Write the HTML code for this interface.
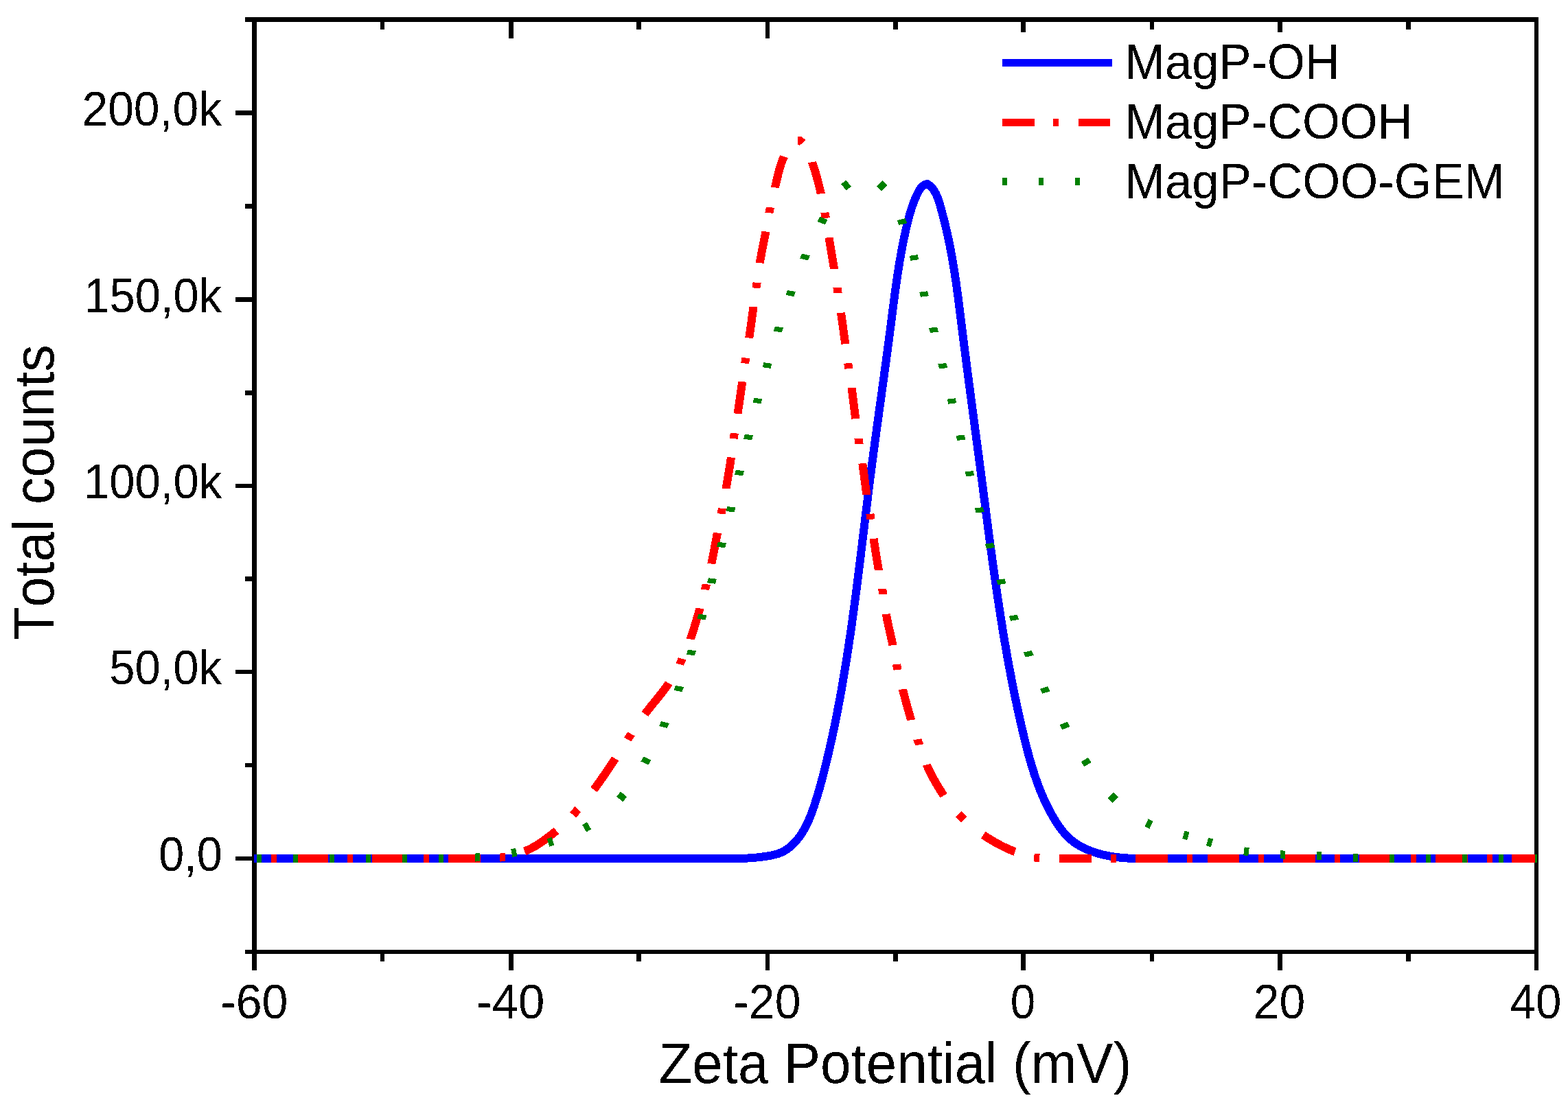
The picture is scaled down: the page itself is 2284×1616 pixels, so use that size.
<!DOCTYPE html>
<html lang="en"><head><meta charset="utf-8"><title>Zeta potential distribution</title>
<style>
html,body{margin:0;padding:0;background:#fff;}
body{width:2284px;height:1616px;overflow:hidden;}
svg{display:block;}
text{white-space:pre;font-kerning:none;font-variant-ligatures:none;}
</style></head>
<body>
<svg width="2284" height="1616" viewBox="0 0 2284 1616">
<defs><filter id="bw" x="-5%" y="-20%" width="110%" height="140%" color-interpolation-filters="sRGB"><feComponentTransfer><feFuncA type="discrete" tableValues="0 1"/></feComponentTransfer></filter></defs>
<rect width="2284" height="1616" fill="#fff"/>
<g shape-rendering="crispEdges" fill="#000">
<rect x="367" y="25" width="7" height="1389" fill="#000"/>
<rect x="357" y="25" width="1884" height="7" fill="#000"/>
<rect x="2235" y="25" width="6" height="1389" fill="#000"/>
<rect x="357" y="1384" width="1884" height="6" fill="#000"/>
<rect x="554" y="1390" width="6" height="11" fill="#000"/>
<rect x="554" y="32" width="6" height="11" fill="#000"/>
<rect x="741" y="1390" width="7" height="24" fill="#000"/>
<rect x="741" y="32" width="7" height="24" fill="#000"/>
<rect x="927" y="1390" width="7" height="11" fill="#000"/>
<rect x="927" y="32" width="7" height="11" fill="#000"/>
<rect x="1115" y="1390" width="6" height="24" fill="#000"/>
<rect x="1115" y="32" width="6" height="24" fill="#000"/>
<rect x="1301" y="1390" width="7" height="11" fill="#000"/>
<rect x="1301" y="32" width="7" height="11" fill="#000"/>
<rect x="1487" y="1390" width="7" height="24" fill="#000"/>
<rect x="1487" y="32" width="7" height="24" fill="#000"/>
<rect x="1675" y="1390" width="6" height="11" fill="#000"/>
<rect x="1675" y="32" width="6" height="11" fill="#000"/>
<rect x="1861" y="1390" width="7" height="24" fill="#000"/>
<rect x="1861" y="32" width="7" height="24" fill="#000"/>
<rect x="2048" y="1390" width="7" height="11" fill="#000"/>
<rect x="2048" y="32" width="7" height="11" fill="#000"/>
<rect x="343" y="1248" width="24" height="6" fill="#000"/>
<rect x="357" y="1112" width="10" height="6" fill="#000"/>
<rect x="343" y="976" width="24" height="6" fill="#000"/>
<rect x="357" y="840" width="10" height="7" fill="#000"/>
<rect x="343" y="705" width="24" height="6" fill="#000"/>
<rect x="357" y="569" width="10" height="7" fill="#000"/>
<rect x="343" y="433" width="24" height="7" fill="#000"/>
<rect x="357" y="297" width="10" height="7" fill="#000"/>
<rect x="343" y="161" width="24" height="7" fill="#000"/>
</g>
<g font-family="'Liberation Sans', Arial, sans-serif" fill="#000" filter="url(#bw)">
<text transform="translate(231.2 1269.3) scale(0.9533 1)" font-size="69.8">0,0</text>
<text transform="translate(159.22 997.3) scale(0.9601 1)" font-size="69.8">50,0k</text>
<text transform="translate(122.11 726.3) scale(0.9594 1)" font-size="69.8">100,0k</text>
<text transform="translate(122.42 454.8) scale(0.9574 1)" font-size="69.8">150,0k</text>
<text transform="translate(119.41 182.8) scale(0.9718 1)" font-size="69.8">200,0k</text>
<text transform="translate(321 1484) scale(0.9761 1)" font-size="69.8">-60</text>
<text transform="translate(693.71 1484) scale(0.9888 1)" font-size="69.8">-40</text>
<text transform="translate(1068.26 1484) scale(0.9730 1)" font-size="69.8">-20</text>
<text transform="translate(1471.7 1484) scale(0.9366 1)" font-size="69.8">0</text>
<text transform="translate(1825.85 1484) scale(0.9733 1)" font-size="69.8">20</text>
<text transform="translate(2199.55 1484) scale(0.9633 1)" font-size="69.8">40</text>
<text transform="translate(959.44 1578) scale(0.9659 1)" font-size="82.8">Zeta Potential (mV)</text>
<text transform="translate(78 932.74) rotate(-90) scale(0.9455 1)" font-size="83.6">Total counts</text>
</g>
<clipPath id="pc"><rect x="370" y="32" width="1869" height="1352"/></clipPath>
<g clip-path="url(#pc)" fill="none" stroke-linecap="butt" stroke-linejoin="round" shape-rendering="crispEdges">
<path d="M320.5 1251 L1040 1251 L1042.81 1251 L1045.61 1251 L1048.41 1251 L1051.21 1251 L1053.99 1251 L1056.78 1251 L1059.56 1251 L1062.34 1251 L1065.11 1251 L1067.89 1251 L1070.66 1251 L1073.43 1251 L1076.2 1251 L1078.97 1250.95 L1081.74 1250.86 L1084.51 1250.74 L1087.28 1250.61 L1090.06 1250.45 L1092.83 1250.28 L1095.61 1250.08 L1098.39 1249.85 L1101.18 1249.6 L1103.96 1249.32 L1106.75 1249.02 L1109.54 1248.68 L1112.33 1248.3 L1115.11 1247.9 L1117.89 1247.45 L1120.66 1246.97 L1123.42 1246.44 L1126.17 1245.86 L1128.9 1245.22 L1131.58 1244.49 L1134.22 1243.65 L1136.81 1242.68 L1139.32 1241.56 L1141.76 1240.31 L1144.13 1238.92 L1146.44 1237.42 L1148.67 1235.8 L1150.83 1234.08 L1152.93 1232.27 L1154.95 1230.37 L1156.91 1228.39 L1158.79 1226.35 L1160.61 1224.25 L1162.36 1222.09 L1164.04 1219.89 L1165.66 1217.65 L1167.22 1215.36 L1168.72 1213.03 L1170.16 1210.66 L1171.55 1208.25 L1172.88 1205.81 L1174.17 1203.34 L1175.41 1200.84 L1176.61 1198.31 L1177.76 1195.76 L1178.88 1193.19 L1179.95 1190.59 L1181 1187.98 L1182.01 1185.35 L1182.99 1182.71 L1183.95 1180.06 L1184.88 1177.4 L1185.79 1174.73 L1186.67 1172.06 L1187.54 1169.39 L1188.4 1166.72 L1189.24 1164.05 L1190.07 1161.38 L1190.88 1158.71 L1191.68 1156.03 L1192.46 1153.36 L1193.24 1150.69 L1194 1148.01 L1194.75 1145.34 L1195.49 1142.66 L1196.23 1139.98 L1196.95 1137.3 L1197.66 1134.62 L1198.37 1131.94 L1199.07 1129.26 L1199.76 1126.57 L1200.44 1123.89 L1201.12 1121.2 L1201.79 1118.51 L1202.46 1115.81 L1203.12 1113.12 L1203.78 1110.42 L1204.43 1107.72 L1205.08 1105.02 L1205.72 1102.32 L1206.36 1099.61 L1206.99 1096.91 L1207.62 1094.2 L1208.24 1091.49 L1208.86 1088.78 L1209.47 1086.06 L1210.08 1083.35 L1210.69 1080.63 L1211.29 1077.91 L1211.88 1075.19 L1212.47 1072.47 L1213.06 1069.75 L1213.64 1067.02 L1214.22 1064.29 L1214.79 1061.57 L1215.36 1058.84 L1215.92 1056.11 L1216.48 1053.38 L1217.04 1050.64 L1217.59 1047.91 L1218.14 1045.17 L1218.68 1042.44 L1219.22 1039.7 L1219.75 1036.96 L1220.28 1034.22 L1220.81 1031.48 L1221.33 1028.74 L1221.85 1026 L1222.37 1023.26 L1222.88 1020.51 L1223.38 1017.77 L1223.89 1015.03 L1224.39 1012.28 L1224.88 1009.53 L1225.38 1006.79 L1225.87 1004.04 L1226.35 1001.29 L1226.83 998.54 L1227.31 995.79 L1227.79 993.04 L1228.26 990.29 L1228.72 987.54 L1229.19 984.79 L1229.65 982.04 L1230.11 979.29 L1230.56 976.54 L1231.01 973.79 L1231.46 971.04 L1231.91 968.28 L1232.35 965.53 L1232.79 962.78 L1233.22 960.03 L1233.66 957.27 L1234.09 954.52 L1234.52 951.76 L1234.94 949.01 L1235.36 946.26 L1235.78 943.5 L1236.2 940.75 L1236.61 937.99 L1237.02 935.24 L1237.43 932.48 L1237.84 929.73 L1238.24 926.97 L1238.64 924.21 L1239.04 921.46 L1239.44 918.7 L1239.83 915.94 L1240.22 913.19 L1240.61 910.43 L1241 907.67 L1241.39 904.91 L1241.77 902.16 L1242.15 899.4 L1242.53 896.64 L1242.91 893.88 L1243.28 891.12 L1243.66 888.37 L1244.03 885.61 L1244.4 882.85 L1244.77 880.09 L1245.14 877.33 L1245.5 874.57 L1245.86 871.81 L1246.23 869.05 L1246.59 866.29 L1246.95 863.53 L1247.3 860.77 L1247.66 858.01 L1248.01 855.25 L1248.37 852.49 L1248.72 849.72 L1249.07 846.96 L1249.42 844.2 L1249.77 841.44 L1250.12 838.68 L1250.46 835.92 L1250.81 833.16 L1251.15 830.39 L1251.5 827.63 L1251.84 824.87 L1252.18 822.11 L1252.52 819.34 L1252.86 816.58 L1253.2 813.82 L1253.54 811.06 L1253.88 808.29 L1254.22 805.53 L1254.56 802.77 L1254.9 800 L1255.23 797.24 L1255.57 794.48 L1255.9 791.71 L1256.24 788.95 L1256.58 786.19 L1256.91 783.42 L1257.25 780.66 L1257.58 777.9 L1257.92 775.13 L1258.25 772.37 L1258.58 769.6 L1258.92 766.84 L1259.25 764.08 L1259.59 761.31 L1259.92 758.55 L1260.26 755.78 L1260.6 753.02 L1260.93 750.25 L1261.27 747.49 L1261.6 744.73 L1261.94 741.96 L1262.28 739.2 L1262.62 736.43 L1262.96 733.67 L1263.3 730.9 L1263.64 728.14 L1263.98 725.37 L1264.32 722.61 L1264.66 719.85 L1265 717.08 L1265.35 714.32 L1265.69 711.55 L1266.04 708.79 L1266.38 706.02 L1266.73 703.26 L1267.08 700.49 L1267.43 697.73 L1267.78 694.96 L1268.13 692.2 L1268.49 689.44 L1268.84 686.67 L1269.2 683.91 L1269.56 681.14 L1269.92 678.38 L1270.28 675.61 L1270.64 672.85 L1271 670.09 L1271.36 667.32 L1271.73 664.56 L1272.1 661.79 L1272.46 659.03 L1272.83 656.26 L1273.2 653.5 L1273.57 650.74 L1273.94 647.97 L1274.31 645.21 L1274.69 642.45 L1275.06 639.68 L1275.44 636.92 L1275.81 634.15 L1276.19 631.39 L1276.56 628.63 L1276.94 625.86 L1277.32 623.1 L1277.7 620.34 L1278.08 617.57 L1278.46 614.81 L1278.84 612.05 L1279.22 609.28 L1279.6 606.52 L1279.98 603.76 L1280.36 601 L1280.74 598.23 L1281.12 595.47 L1281.5 592.71 L1281.88 589.94 L1282.27 587.18 L1282.65 584.42 L1283.03 581.66 L1283.41 578.9 L1283.8 576.13 L1284.18 573.37 L1284.56 570.61 L1284.94 567.85 L1285.32 565.08 L1285.7 562.32 L1286.08 559.56 L1286.46 556.8 L1286.84 554.04 L1287.22 551.28 L1287.6 548.52 L1287.98 545.75 L1288.36 542.99 L1288.74 540.23 L1289.12 537.47 L1289.49 534.71 L1289.87 531.95 L1290.24 529.19 L1290.62 526.43 L1290.99 523.67 L1291.36 520.91 L1291.74 518.15 L1292.11 515.39 L1292.48 512.63 L1292.85 509.87 L1293.21 507.11 L1293.58 504.35 L1293.95 501.59 L1294.31 498.83 L1294.68 496.07 L1295.04 493.31 L1295.4 490.55 L1295.76 487.79 L1296.12 485.03 L1296.48 482.27 L1296.83 479.51 L1297.19 476.75 L1297.54 473.99 L1297.89 471.24 L1298.24 468.48 L1298.6 465.72 L1298.95 462.96 L1299.3 460.2 L1299.65 457.45 L1300 454.69 L1300.35 451.93 L1300.71 449.18 L1301.06 446.42 L1301.42 443.66 L1301.78 440.91 L1302.14 438.15 L1302.5 435.4 L1302.87 432.64 L1303.24 429.89 L1303.61 427.13 L1303.98 424.38 L1304.36 421.63 L1304.74 418.87 L1305.13 416.12 L1305.52 413.37 L1305.91 410.62 L1306.31 407.87 L1306.71 405.11 L1307.12 402.36 L1307.54 399.61 L1307.96 396.87 L1308.38 394.12 L1308.81 391.37 L1309.25 388.62 L1309.7 385.87 L1310.15 383.13 L1310.61 380.38 L1311.07 377.64 L1311.55 374.89 L1312.03 372.15 L1312.52 369.41 L1313.02 366.66 L1313.53 363.92 L1314.04 361.18 L1314.57 358.44 L1315.1 355.7 L1315.64 352.96 L1316.2 350.22 L1316.76 347.49 L1317.33 344.75 L1317.92 342.01 L1318.51 339.28 L1319.12 336.54 L1319.74 333.81 L1320.37 331.08 L1321.01 328.35 L1321.66 325.62 L1322.33 322.9 L1323.03 320.18 L1323.74 317.46 L1324.47 314.76 L1325.23 312.07 L1326.01 309.38 L1326.83 306.71 L1327.67 304.05 L1328.55 301.41 L1329.46 298.78 L1330.41 296.17 L1331.4 293.58 L1332.43 291.01 L1333.5 288.46 L1334.62 285.94 L1335.78 283.44 L1337 280.96 L1338.28 278.53 L1339.69 276.21 L1341.26 274.03 L1343.06 272.07 L1345.13 270.38 L1347.53 269 L1350.3 268 L1352.88 269.47 L1355.17 271.21 L1357.18 273.18 L1358.97 275.33 L1360.57 277.62 L1362.02 280.02 L1363.33 282.51 L1364.52 285.07 L1365.62 287.7 L1366.62 290.38 L1367.55 293.11 L1368.42 295.87 L1369.24 298.65 L1370.04 301.45 L1370.81 304.24 L1371.58 307.04 L1372.33 309.84 L1373.07 312.63 L1373.8 315.43 L1374.52 318.22 L1375.23 321.02 L1375.92 323.81 L1376.61 326.61 L1377.28 329.4 L1377.95 332.2 L1378.6 334.99 L1379.24 337.79 L1379.87 340.59 L1380.49 343.38 L1381.1 346.18 L1381.7 348.98 L1382.28 351.78 L1382.86 354.59 L1383.43 357.39 L1383.99 360.2 L1384.53 363.01 L1385.07 365.82 L1385.6 368.63 L1386.12 371.44 L1386.63 374.26 L1387.13 377.08 L1387.62 379.9 L1388.1 382.72 L1388.57 385.54 L1389.04 388.37 L1389.5 391.2 L1389.95 394.03 L1390.39 396.86 L1390.83 399.69 L1391.26 402.52 L1391.69 405.36 L1392.1 408.19 L1392.52 411.03 L1392.92 413.87 L1393.32 416.71 L1393.72 419.55 L1394.11 422.39 L1394.5 425.24 L1394.88 428.08 L1395.26 430.92 L1395.64 433.77 L1396.01 436.62 L1396.38 439.46 L1396.75 442.31 L1397.11 445.16 L1397.47 448.01 L1397.83 450.86 L1398.19 453.71 L1398.55 456.56 L1398.9 459.41 L1399.25 462.26 L1399.61 465.11 L1399.96 467.96 L1400.31 470.82 L1400.67 473.67 L1401.02 476.52 L1401.38 479.37 L1401.73 482.22 L1402.09 485.07 L1402.44 487.92 L1402.8 490.77 L1403.16 493.62 L1403.52 496.48 L1403.88 499.33 L1404.25 502.18 L1404.61 505.03 L1404.97 507.88 L1405.34 510.73 L1405.7 513.58 L1406.07 516.42 L1406.43 519.27 L1406.8 522.12 L1407.17 524.97 L1407.54 527.82 L1407.91 530.67 L1408.28 533.52 L1408.65 536.37 L1409.02 539.22 L1409.39 542.07 L1409.76 544.91 L1410.14 547.76 L1410.51 550.61 L1410.88 553.46 L1411.26 556.31 L1411.63 559.15 L1412.01 562 L1412.38 564.85 L1412.76 567.7 L1413.13 570.54 L1413.51 573.39 L1413.89 576.24 L1414.27 579.09 L1414.64 581.93 L1415.02 584.78 L1415.4 587.63 L1415.78 590.47 L1416.15 593.32 L1416.53 596.17 L1416.91 599.01 L1417.29 601.86 L1417.67 604.71 L1418.05 607.55 L1418.43 610.4 L1418.8 613.25 L1419.18 616.09 L1419.56 618.94 L1419.94 621.79 L1420.32 624.63 L1420.7 627.48 L1421.08 630.33 L1421.45 633.17 L1421.83 636.02 L1422.21 638.86 L1422.59 641.71 L1422.96 644.56 L1423.34 647.4 L1423.72 650.25 L1424.1 653.09 L1424.47 655.94 L1424.85 658.78 L1425.22 661.63 L1425.6 664.48 L1425.97 667.32 L1426.35 670.17 L1426.72 673.01 L1427.1 675.86 L1427.47 678.7 L1427.84 681.55 L1428.21 684.4 L1428.58 687.24 L1428.96 690.09 L1429.33 692.93 L1429.7 695.78 L1430.07 698.62 L1430.43 701.47 L1430.8 704.32 L1431.17 707.16 L1431.54 710.01 L1431.91 712.85 L1432.28 715.7 L1432.65 718.54 L1433.01 721.39 L1433.38 724.23 L1433.75 727.08 L1434.12 729.92 L1434.49 732.77 L1434.85 735.61 L1435.22 738.46 L1435.59 741.3 L1435.96 744.15 L1436.33 746.99 L1436.7 749.84 L1437.07 752.68 L1437.44 755.53 L1437.81 758.37 L1438.18 761.21 L1438.55 764.06 L1438.92 766.9 L1439.3 769.75 L1439.67 772.59 L1440.05 775.43 L1440.42 778.28 L1440.8 781.12 L1441.17 783.96 L1441.55 786.8 L1441.93 789.65 L1442.31 792.49 L1442.69 795.33 L1443.07 798.17 L1443.45 801.02 L1443.84 803.86 L1444.22 806.7 L1444.61 809.54 L1444.99 812.38 L1445.38 815.22 L1445.77 818.06 L1446.16 820.9 L1446.56 823.74 L1446.95 826.58 L1447.35 829.42 L1447.74 832.26 L1448.14 835.1 L1448.54 837.94 L1448.94 840.78 L1449.35 843.62 L1449.75 846.46 L1450.16 849.29 L1450.57 852.13 L1450.98 854.97 L1451.39 857.81 L1451.8 860.64 L1452.22 863.48 L1452.64 866.32 L1453.06 869.15 L1453.48 871.99 L1453.9 874.82 L1454.33 877.66 L1454.76 880.49 L1455.19 883.33 L1455.62 886.16 L1456.06 889 L1456.5 891.83 L1456.94 894.66 L1457.38 897.5 L1457.83 900.33 L1458.27 903.16 L1458.72 905.99 L1459.18 908.83 L1459.63 911.66 L1460.09 914.49 L1460.55 917.32 L1461.01 920.15 L1461.48 922.98 L1461.95 925.81 L1462.42 928.64 L1462.9 931.46 L1463.38 934.29 L1463.86 937.12 L1464.34 939.95 L1464.83 942.77 L1465.32 945.6 L1465.81 948.43 L1466.31 951.25 L1466.81 954.08 L1467.31 956.9 L1467.82 959.73 L1468.33 962.55 L1468.84 965.38 L1469.36 968.2 L1469.88 971.02 L1470.4 973.84 L1470.93 976.66 L1471.46 979.49 L1472 982.31 L1472.53 985.13 L1473.08 987.95 L1473.62 990.77 L1474.17 993.58 L1474.72 996.4 L1475.28 999.22 L1475.84 1002.04 L1476.41 1004.85 L1476.98 1007.67 L1477.55 1010.49 L1478.13 1013.3 L1478.71 1016.12 L1479.3 1018.93 L1479.89 1021.74 L1480.48 1024.56 L1481.08 1027.37 L1481.68 1030.18 L1482.29 1032.99 L1482.9 1035.8 L1483.52 1038.62 L1484.14 1041.42 L1484.76 1044.23 L1485.39 1047.04 L1486.03 1049.85 L1486.66 1052.66 L1487.31 1055.47 L1487.96 1058.27 L1488.61 1061.08 L1489.27 1063.88 L1489.93 1066.69 L1490.6 1069.49 L1491.27 1072.29 L1491.95 1075.1 L1492.63 1077.9 L1493.32 1080.7 L1494.02 1083.49 L1494.73 1086.29 L1495.44 1089.08 L1496.16 1091.87 L1496.89 1094.66 L1497.63 1097.45 L1498.39 1100.23 L1499.15 1103 L1499.92 1105.78 L1500.71 1108.55 L1501.51 1111.31 L1502.32 1114.07 L1503.14 1116.82 L1503.98 1119.57 L1504.83 1122.31 L1505.7 1125.04 L1506.59 1127.77 L1507.49 1130.49 L1508.41 1133.21 L1509.34 1135.91 L1510.3 1138.61 L1511.27 1141.3 L1512.26 1143.98 L1513.27 1146.65 L1514.3 1149.32 L1515.35 1151.97 L1516.42 1154.62 L1517.52 1157.25 L1518.64 1159.88 L1519.78 1162.49 L1520.94 1165.09 L1522.13 1167.69 L1523.34 1170.27 L1524.57 1172.83 L1525.84 1175.39 L1527.13 1177.94 L1528.44 1180.47 L1529.78 1182.98 L1531.15 1185.49 L1532.55 1187.98 L1533.98 1190.46 L1535.44 1192.92 L1536.93 1195.37 L1538.44 1197.8 L1540 1200.21 L1541.59 1202.6 L1543.22 1204.96 L1544.9 1207.28 L1546.63 1209.56 L1548.41 1211.8 L1550.24 1213.99 L1552.13 1216.13 L1554.09 1218.21 L1556.11 1220.23 L1558.19 1222.18 L1560.35 1224.06 L1562.59 1225.86 L1564.9 1227.59 L1567.29 1229.23 L1569.75 1230.8 L1572.26 1232.28 L1574.83 1233.7 L1577.43 1235.04 L1580.06 1236.31 L1582.72 1237.51 L1585.39 1238.65 L1588.07 1239.73 L1590.77 1240.74 L1593.48 1241.69 L1596.2 1242.58 L1598.94 1243.42 L1601.68 1244.2 L1604.44 1244.93 L1607.2 1245.61 L1609.98 1246.24 L1612.76 1246.82 L1615.56 1247.36 L1618.36 1247.85 L1621.17 1248.3 L1623.99 1248.71 L1626.82 1249.08 L1629.65 1249.41 L1632.49 1249.71 L1635.34 1249.97 L1638.19 1250.2 L1641.05 1250.41 L1643.91 1250.58 L1646.78 1250.73 L1649.64 1250.86 L1652.52 1250.96 L1655.39 1251 L1658.27 1251 L1661.15 1251 L1664.03 1251 L1666.92 1251 L1669.8 1251 L1672.68 1251 L1675.57 1251 L1678.45 1251 L1681.33 1251 L1684.21 1251 L1687.09 1251 L1689.97 1251 L1692.84 1251 L1695.71 1250.99 L1698.58 1250.97 L1701.44 1250.96 L1704.3 1250.96 L1707.15 1250.98 L1710 1251 L2239 1251" stroke="#0000ff" stroke-width="12"/>
<g stroke="#ff0000" stroke-width="12">
<path stroke="none" fill="#ff0000" d="M395 1257 L403 1257 L403 1245 L395 1245Z"/>
<path stroke="none" fill="#ff0000" d="M431 1257 L434.13 1257 L437.27 1257 L440.4 1257 L443.53 1257 L446.67 1257 L449.8 1257 L452.93 1257 L456.07 1257 L459.2 1257 L462.33 1257 L465.47 1257 L468.6 1257 L471.73 1257 L474.87 1257 L478 1257 L478 1245 L474.87 1245 L471.73 1245 L468.6 1245 L465.47 1245 L462.33 1245 L459.2 1245 L456.07 1245 L452.93 1245 L449.8 1245 L446.67 1245 L443.53 1245 L440.4 1245 L437.27 1245 L434.13 1245 L431 1245Z"/>
<path stroke="none" fill="#ff0000" d="M506 1257 L514 1257 L514 1245 L506 1245Z"/>
<path stroke="none" fill="#ff0000" d="M542 1257 L545.13 1257 L548.27 1257 L551.4 1257 L554.53 1257 L557.67 1257 L560.8 1257 L563.93 1257 L567.07 1257 L570.2 1257 L573.33 1257 L576.47 1257 L579.6 1257 L582.73 1257 L585.87 1257 L589 1257 L589 1245 L585.87 1245 L582.73 1245 L579.6 1245 L576.47 1245 L573.33 1245 L570.2 1245 L567.07 1245 L563.93 1245 L560.8 1245 L557.67 1245 L554.53 1245 L551.4 1245 L548.27 1245 L545.13 1245 L542 1245Z"/>
<path stroke="none" fill="#ff0000" d="M617 1257 L625 1257 L625 1245 L617 1245Z"/>
<path stroke="none" fill="#ff0000" d="M653 1257 L656.13 1257 L659.27 1257 L662.4 1257 L665.54 1257 L668.67 1257 L671.8 1257 L674.94 1257 L678.07 1257 L681.21 1257 L684.34 1257 L687.47 1257 L690.6 1257 L693.74 1257 L696.87 1257 L700 1257 L700 1245 L696.87 1245 L693.74 1245 L690.6 1245 L687.47 1245 L684.34 1245 L681.21 1245 L678.07 1245 L674.94 1245 L671.8 1245 L668.67 1245 L665.54 1245 L662.4 1245 L659.27 1245 L656.13 1245 L653 1245Z"/>
<path stroke="none" fill="#ff0000" d="M728.54 1255.63 L736.54 1254.92 L735.46 1242.97 L727.46 1243.68Z"/>
<path stroke="none" fill="#ff0000" d="M766.24 1246.1 L769.2 1244.91 L772.12 1243.62 L775.01 1242.23 L777.86 1240.76 L780.67 1239.21 L783.46 1237.59 L786.2 1235.91 L788.92 1234.17 L791.6 1232.38 L794.25 1230.55 L796.87 1228.68 L799.45 1226.79 L802 1224.88 L804.52 1222.96 L807.01 1221.03 L809.46 1219.1 L811.87 1217.19 L814.25 1215.28 L806.75 1205.92 L804.39 1207.8 L802.01 1209.69 L799.61 1211.58 L797.2 1213.46 L794.76 1215.32 L792.31 1217.15 L789.84 1218.96 L787.36 1220.72 L784.86 1222.45 L782.35 1224.12 L779.83 1225.74 L777.3 1227.29 L774.75 1228.77 L772.2 1230.17 L769.65 1231.5 L767.09 1232.73 L764.52 1233.86 L761.96 1234.9Z"/>
<path stroke="none" fill="#ff0000" d="M838.98 1191.44 L846.28 1183.44 L837.42 1175.36 L830.12 1183.36Z"/>
<path stroke="none" fill="#ff0000" d="M869.69 1154.31 L871.55 1151.84 L873.39 1149.35 L875.21 1146.85 L877.02 1144.34 L878.81 1141.82 L880.6 1139.3 L882.37 1136.77 L884.13 1134.23 L885.88 1131.69 L887.62 1129.14 L889.35 1126.59 L891.07 1124.04 L892.79 1121.49 L894.5 1118.93 L896.2 1116.38 L897.9 1113.82 L899.6 1111.27 L901.5 1108.41 L891.1 1102.39 L889.61 1104.63 L887.91 1107.18 L886.22 1109.72 L884.52 1112.26 L882.82 1114.8 L881.12 1117.34 L879.41 1119.87 L877.7 1122.39 L875.98 1124.9 L874.25 1127.41 L872.52 1129.91 L870.78 1132.4 L869.03 1134.88 L867.27 1137.35 L865.5 1139.8 L863.71 1142.24 L861.92 1144.67 L860.11 1147.09Z"/>
<path stroke="none" fill="#ff0000" d="M919.3 1080.51 L924.61 1072.51 L914.2 1066.49 L908.89 1074.49Z"/>
<path stroke="none" fill="#ff0000" d="M944.41 1043.94 L946.18 1041.56 L948.04 1039.1 L949.95 1036.65 L951.88 1034.21 L953.85 1031.77 L955.83 1029.33 L957.83 1026.88 L959.84 1024.43 L961.86 1021.97 L963.87 1019.49 L965.88 1017 L967.88 1014.49 L969.86 1011.95 L971.81 1009.38 L973.74 1006.79 L975.63 1004.15 L977.48 1001.48 L979.52 998.4 L968.98 992.6 L967.55 994.74 L965.83 997.23 L964.05 999.71 L962.22 1002.17 L960.36 1004.62 L958.45 1007.06 L956.51 1009.5 L954.55 1011.94 L952.56 1014.38 L950.56 1016.82 L948.55 1019.27 L946.53 1021.74 L944.52 1024.22 L942.51 1026.72 L940.51 1029.24 L938.53 1031.79 L936.57 1034.36 L934.59 1037.06Z"/>
<path stroke="none" fill="#ff0000" d="M995.91 969.73 L999.75 961.73 L988.09 958.27 L984.25 966.27Z"/>
<path stroke="none" fill="#ff0000" d="M1011.51 932.51 L1012.21 930.53 L1013.25 927.52 L1014.26 924.5 L1015.26 921.48 L1016.23 918.46 L1017.19 915.43 L1018.12 912.4 L1019.05 909.36 L1019.96 906.33 L1020.86 903.3 L1021.75 900.26 L1022.64 897.23 L1023.52 894.21 L1024.39 891.18 L1025.5 887.33 L1013.5 885.67 L1012.86 887.85 L1011.99 890.87 L1011.12 893.88 L1010.24 896.89 L1009.35 899.9 L1008.46 902.89 L1007.56 905.89 L1006.65 908.87 L1005.73 911.85 L1004.8 914.81 L1003.84 917.77 L1002.88 920.72 L1001.89 923.65 L1000.88 926.57 L999.49 930.49Z"/>
<path stroke="none" fill="#ff0000" d="M1032.97 860 L1035.03 852 L1023.03 850.5 L1020.97 858.5Z"/>
<path stroke="none" fill="#ff0000" d="M1042.25 822.14 L1042.76 819.76 L1043.39 816.74 L1044.01 813.72 L1044.61 810.7 L1045.2 807.68 L1045.78 804.66 L1046.36 801.65 L1046.92 798.63 L1047.49 795.62 L1048.05 792.62 L1048.61 789.62 L1049.17 786.62 L1049.74 783.62 L1050.31 780.64 L1051 777.08 L1039 775.92 L1038.53 778.37 L1037.95 781.38 L1037.38 784.4 L1036.81 787.41 L1036.25 790.42 L1035.69 793.42 L1035.13 796.42 L1034.56 799.42 L1034 802.41 L1033.42 805.39 L1032.84 808.37 L1032.24 811.35 L1031.64 814.31 L1031.02 817.27 L1030.25 820.86Z"/>
<path stroke="none" fill="#ff0000" d="M1056.48 749.32 L1058.03 741.32 L1046.02 740.18 L1044.47 748.18Z"/>
<path stroke="none" fill="#ff0000" d="M1063.5 712.52 L1063.94 710.02 L1064.48 706.98 L1065.01 703.94 L1065.53 700.9 L1066.05 697.86 L1066.57 694.82 L1067.08 691.78 L1067.58 688.74 L1068.08 685.69 L1068.58 682.64 L1069.06 679.59 L1069.54 676.54 L1070.01 673.49 L1070.48 670.43 L1071 666.94 L1059 666.06 L1058.61 668.64 L1058.15 671.67 L1057.68 674.69 L1057.21 677.72 L1056.73 680.74 L1056.24 683.76 L1055.74 686.78 L1055.24 689.81 L1054.74 692.83 L1054.22 695.85 L1053.71 698.87 L1053.18 701.89 L1052.66 704.91 L1052.13 707.93 L1051.5 711.48Z"/>
<path stroke="none" fill="#ff0000" d="M1074.66 639.69 L1075.84 631.69 L1063.84 630.81 L1062.66 638.81Z"/>
<path stroke="none" fill="#ff0000" d="M1080.5 603.2 L1080.9 600.55 L1081.37 597.44 L1081.83 594.33 L1082.29 591.23 L1082.74 588.12 L1083.19 585.01 L1083.64 581.91 L1084.08 578.8 L1084.52 575.7 L1084.96 572.6 L1085.41 569.5 L1085.85 566.4 L1086.29 563.3 L1086.74 560.21 L1087.25 556.68 L1075.25 555.82 L1074.86 558.49 L1074.41 561.6 L1073.97 564.7 L1073.53 567.81 L1073.08 570.91 L1072.64 574.01 L1072.2 577.11 L1071.76 580.21 L1071.31 583.3 L1070.87 586.4 L1070.42 589.49 L1069.96 592.58 L1069.5 595.67 L1069.04 598.76 L1068.5 602.3Z"/>
<path stroke="none" fill="#ff0000" d="M1091.13 529.96 L1092.37 521.96 L1080.37 521.04 L1079.13 529.04Z"/>
<path stroke="none" fill="#ff0000" d="M1097.25 492.95 L1097.64 490.35 L1098.08 487.3 L1098.52 484.25 L1098.94 481.2 L1099.36 478.16 L1099.77 475.11 L1100.18 472.07 L1100.58 469.03 L1100.99 465.99 L1101.39 462.96 L1101.79 459.93 L1102.2 456.9 L1102.61 453.88 L1103.02 450.85 L1103.5 447.42 L1091.5 446.58 L1091.13 449.21 L1090.72 452.26 L1090.3 455.3 L1089.9 458.34 L1089.49 461.38 L1089.09 464.42 L1088.69 467.45 L1088.28 470.48 L1087.88 473.51 L1087.47 476.54 L1087.05 479.56 L1086.63 482.58 L1086.2 485.59 L1085.77 488.6 L1085.25 492.05Z"/>
<path stroke="none" fill="#ff0000" d="M1107.42 420.18 L1108.58 412.18 L1096.58 411.32 L1095.42 419.32Z"/>
<path stroke="none" fill="#ff0000" d="M1112.75 383.74 L1113.18 381.21 L1113.71 378.19 L1114.26 375.17 L1114.82 372.14 L1115.4 369.12 L1115.99 366.09 L1116.59 363.05 L1117.2 360.01 L1117.81 356.97 L1118.42 353.92 L1119.03 350.87 L1119.64 347.81 L1120.24 344.74 L1120.82 341.67 L1121.5 338.04 L1109.5 336.96 L1109.03 339.44 L1108.45 342.46 L1107.86 345.49 L1107.26 348.53 L1106.66 351.57 L1106.05 354.61 L1105.43 357.66 L1104.82 360.71 L1104.22 363.77 L1103.62 366.84 L1103.03 369.91 L1102.46 372.99 L1101.9 376.08 L1101.35 379.17 L1100.75 382.76Z"/>
<path stroke="none" fill="#ff0000" d="M1126.29 310.8 L1127.91 302.8 L1115.91 301.6 L1114.29 309.6Z"/>
<path stroke="none" fill="#ff0000" d="M1134.8 274.06 L1135.4 271.68 L1136.17 268.53 L1136.92 265.36 L1137.67 262.19 L1138.41 259.03 L1139.16 255.89 L1139.94 252.79 L1140.73 249.74 L1141.56 246.76 L1142.42 243.85 L1143.33 241.03 L1144.29 238.32 L1145.31 235.74 L1146.38 233.29 L1147.91 230.23 L1136.49 226.17 L1135.49 228.24 L1134.22 231.15 L1133.05 234.14 L1131.96 237.19 L1130.96 240.3 L1130.02 243.45 L1129.14 246.63 L1128.31 249.84 L1127.51 253.05 L1126.74 256.26 L1125.98 259.45 L1125.24 262.61 L1124.5 265.73 L1123.75 268.8 L1122.8 272.54Z"/>
<path stroke="none" fill="#ff0000" d="M1162 198.8 L1167 198.8 L1173.3 203.8 L1165.1 211.9 L1162 210.7 Z"/>
<path stroke="none" fill="#ff0000" d="M1176.89 237.22 L1178.28 241.14 L1179.27 244.07 L1180.23 247.03 L1181.16 250.01 L1182.07 253.01 L1182.95 256.03 L1183.8 259.06 L1184.63 262.11 L1185.44 265.16 L1186.23 268.23 L1187.01 271.31 L1187.76 274.39 L1188.51 277.48 L1189.24 280.56 L1189.8 282.98 L1201.8 281.62 L1200.92 277.82 L1200.18 274.69 L1199.42 271.56 L1198.65 268.42 L1197.86 265.27 L1197.05 262.13 L1196.22 258.99 L1195.37 255.85 L1194.48 252.72 L1193.57 249.6 L1192.64 246.49 L1191.67 243.39 L1190.66 240.3 L1189.62 237.22 L1188.91 235.18Z"/>
<path stroke="none" fill="#ff0000" d="M1195.37 310.29 L1196.83 318.29 L1208.83 317.21 L1207.37 309.21Z"/>
<path stroke="none" fill="#ff0000" d="M1201.5 346.74 L1202.08 350.28 L1202.59 353.32 L1203.09 356.37 L1203.59 359.42 L1204.09 362.47 L1204.59 365.52 L1205.09 368.57 L1205.59 371.62 L1206.09 374.67 L1206.59 377.72 L1207.09 380.77 L1207.59 383.81 L1208.09 386.86 L1208.58 389.91 L1209 392.48 L1221 391.52 L1220.43 387.99 L1219.93 384.93 L1219.43 381.88 L1218.93 378.83 L1218.43 375.78 L1217.94 372.73 L1217.44 369.68 L1216.94 366.63 L1216.43 363.58 L1215.93 360.52 L1215.43 357.47 L1214.93 354.42 L1214.43 351.37 L1213.92 348.32 L1213.5 345.76Z"/>
<path stroke="none" fill="#ff0000" d="M1213.37 419.47 L1214.63 427.47 L1226.63 426.53 L1225.37 418.53Z"/>
<path stroke="none" fill="#ff0000" d="M1219 456.18 L1219.5 459.63 L1219.93 462.65 L1220.35 465.67 L1220.77 468.7 L1221.18 471.72 L1221.6 474.75 L1222.01 477.78 L1222.42 480.81 L1222.83 483.85 L1223.23 486.88 L1223.64 489.92 L1224.06 492.96 L1224.47 496 L1224.89 499.04 L1225.25 501.66 L1237.25 500.84 L1236.77 497.4 L1236.36 494.37 L1235.95 491.34 L1235.54 488.31 L1235.13 485.28 L1234.72 482.25 L1234.31 479.21 L1233.9 476.17 L1233.49 473.14 L1233.07 470.1 L1232.66 467.06 L1232.23 464.02 L1231.81 460.97 L1231.38 457.93 L1231 455.32Z"/>
<path stroke="none" fill="#ff0000" d="M1229.17 529.68 L1230.33 537.68 L1242.33 536.82 L1241.17 528.82Z"/>
<path stroke="none" fill="#ff0000" d="M1234.5 565.41 L1234.96 568.81 L1235.36 571.81 L1235.75 574.8 L1236.13 577.81 L1236.51 580.82 L1236.88 583.83 L1237.25 586.84 L1237.62 589.86 L1237.98 592.88 L1238.36 595.9 L1238.73 598.93 L1239.11 601.96 L1239.5 604.99 L1239.9 608.02 L1240.25 610.65 L1252.25 609.85 L1251.79 606.45 L1251.4 603.45 L1251.02 600.45 L1250.64 597.44 L1250.27 594.43 L1249.9 591.42 L1249.53 588.41 L1249.16 585.39 L1248.79 582.36 L1248.41 579.34 L1248.04 576.31 L1247.65 573.28 L1247.26 570.25 L1246.86 567.21 L1246.5 564.59Z"/>
<path stroke="none" fill="#ff0000" d="M1244.39 639.45 L1245.61 647.45 L1257.61 646.55 L1256.39 638.55Z"/>
<path stroke="none" fill="#ff0000" d="M1250.25 675.69 L1250.76 679.15 L1251.19 682.17 L1251.6 685.2 L1252.01 688.23 L1252.41 691.27 L1252.81 694.32 L1253.2 697.37 L1253.6 700.43 L1253.99 703.49 L1254.4 706.55 L1254.81 709.62 L1255.23 712.69 L1255.66 715.76 L1256.11 718.84 L1256.5 721.46 L1268.5 720.54 L1267.98 717.08 L1267.54 714.06 L1267.11 711.04 L1266.7 708.01 L1266.29 704.98 L1265.89 701.93 L1265.5 698.89 L1265.1 695.84 L1264.71 692.78 L1264.31 689.72 L1263.91 686.65 L1263.49 683.58 L1263.07 680.51 L1262.64 677.44 L1262.25 674.81Z"/>
<path stroke="none" fill="#ff0000" d="M1261.38 749.21 L1262.62 757.21 L1274.62 756.29 L1273.38 748.29Z"/>
<path stroke="none" fill="#ff0000" d="M1266.5 785.19 L1267.03 788.74 L1267.51 791.84 L1267.98 794.93 L1268.47 798.03 L1268.95 801.12 L1269.45 804.22 L1269.94 807.31 L1270.44 810.4 L1270.95 813.5 L1271.46 816.59 L1271.98 819.68 L1272.5 822.77 L1273.02 825.85 L1273.55 828.94 L1274 831.51 L1286 830.49 L1285.38 826.9 L1284.85 823.83 L1284.33 820.76 L1283.81 817.69 L1283.3 814.62 L1282.79 811.55 L1282.29 808.47 L1281.79 805.4 L1281.3 802.32 L1280.81 799.25 L1280.32 796.17 L1279.84 793.09 L1279.37 790.02 L1278.9 786.94 L1278.5 784.31Z"/>
<path stroke="none" fill="#ff0000" d="M1279.08 858.5 L1280.42 866.5 L1292.42 865.5 L1291.08 857.5Z"/>
<path stroke="none" fill="#ff0000" d="M1284.75 895.27 L1285.41 898.9 L1286 902 L1286.62 905.09 L1287.26 908.16 L1287.92 911.22 L1288.59 914.28 L1289.27 917.33 L1289.96 920.36 L1290.65 923.39 L1291.34 926.42 L1292.02 929.44 L1292.69 932.45 L1293.35 935.45 L1294 938.46 L1294.5 940.85 L1306.5 939.65 L1305.74 935.97 L1305.08 932.9 L1304.41 929.85 L1303.73 926.8 L1303.04 923.76 L1302.35 920.73 L1301.66 917.71 L1300.98 914.69 L1300.31 911.68 L1299.65 908.67 L1299 905.67 L1298.38 902.68 L1297.78 899.68 L1297.2 896.69 L1296.75 894.23Z"/>
<path stroke="none" fill="#ff0000" d="M1299.87 968.64 L1301.63 976.64 L1313.63 975.36 L1311.87 967.36Z"/>
<path stroke="none" fill="#ff0000" d="M1308.75 1005.01 L1309.74 1008.79 L1310.53 1011.8 L1311.33 1014.82 L1312.13 1017.84 L1312.95 1020.86 L1313.76 1023.88 L1314.59 1026.9 L1315.42 1029.92 L1316.26 1032.93 L1317.11 1035.95 L1317.97 1038.96 L1318.84 1041.97 L1319.72 1044.98 L1320.61 1047.98 L1321.24 1050.12 L1333.26 1048.38 L1332.11 1044.56 L1331.23 1041.59 L1330.36 1038.63 L1329.5 1035.65 L1328.66 1032.68 L1327.82 1029.7 L1326.98 1026.71 L1326.16 1023.72 L1325.34 1020.73 L1324.53 1017.74 L1323.73 1014.74 L1322.93 1011.74 L1322.13 1008.74 L1321.34 1005.74 L1320.75 1003.49Z"/>
<path stroke="none" fill="#ff0000" d="M1330.36 1078.23 L1333.12 1086.23 L1345.14 1084.27 L1342.38 1076.27Z"/>
<path stroke="none" fill="#ff0000" d="M1343.83 1115.69 L1345.5 1119.47 L1346.79 1122.27 L1348.11 1125.07 L1349.47 1127.86 L1350.87 1130.64 L1352.29 1133.41 L1353.75 1136.16 L1355.24 1138.9 L1356.75 1141.62 L1358.3 1144.32 L1359.87 1147 L1361.47 1149.67 L1363.09 1152.31 L1364.73 1154.93 L1366.4 1157.52 L1368.08 1160.08 L1369.61 1162.37 L1379.89 1156.13 L1378.08 1153.44 L1376.46 1150.98 L1374.86 1148.49 L1373.28 1145.98 L1371.73 1143.44 L1370.19 1140.89 L1368.69 1138.31 L1367.21 1135.72 L1365.75 1133.11 L1364.33 1130.49 L1362.93 1127.85 L1361.56 1125.2 L1360.23 1122.54 L1358.93 1119.88 L1357.67 1117.2 L1356.44 1114.53 L1355.67 1112.81Z"/>
<path stroke="none" fill="#ff0000" d="M1392.02 1190.23 L1399.97 1198.23 L1408.48 1189.77 L1400.53 1181.77Z"/>
<path stroke="none" fill="#ff0000" d="M1428.94 1221.76 L1431.52 1223.44 L1434.13 1225.12 L1436.78 1226.79 L1439.45 1228.43 L1442.16 1230.06 L1444.89 1231.66 L1447.66 1233.24 L1450.44 1234.78 L1453.26 1236.29 L1456.09 1237.76 L1458.95 1239.18 L1461.83 1240.56 L1464.72 1241.9 L1467.64 1243.17 L1470.57 1244.39 L1473.52 1245.55 L1476.48 1246.65 L1480.52 1235.35 L1477.8 1234.34 L1475.08 1233.27 L1472.36 1232.14 L1469.64 1230.95 L1466.93 1229.7 L1464.23 1228.41 L1461.53 1227.06 L1458.85 1225.67 L1456.19 1224.24 L1453.53 1222.78 L1450.9 1221.27 L1448.28 1219.74 L1445.69 1218.18 L1443.12 1216.6 L1440.57 1215 L1438.05 1213.38 L1435.56 1211.74Z"/>
<path stroke="none" fill="#ff0000" d="M1505.84 1255.46 L1513.84 1256.01 L1514.66 1244.04 L1506.66 1243.49Z"/>
<path stroke="none" fill="#ff0000" d="M1543 1257 L1546.13 1257 L1549.26 1257 L1552.4 1257 L1555.53 1257 L1558.66 1257 L1561.8 1257 L1564.93 1257 L1568.06 1257 L1571.2 1257 L1574.33 1257 L1577.47 1257 L1580.6 1257 L1583.73 1257 L1586.87 1257 L1590 1257 L1590 1245 L1586.87 1245 L1583.73 1245 L1580.6 1245 L1577.47 1245 L1574.33 1245 L1571.2 1245 L1568.06 1245 L1564.93 1245 L1561.8 1245 L1558.66 1245 L1555.53 1245 L1552.4 1245 L1549.26 1245 L1546.13 1245 L1543 1245Z"/>
<path stroke="none" fill="#ff0000" d="M1617.5 1257 L1625.5 1257 L1625.5 1245 L1617.5 1245Z"/>
<path stroke="none" fill="#ff0000" d="M1654 1257 L1657.13 1257 L1660.27 1257 L1663.4 1257 L1666.53 1257 L1669.67 1257 L1672.8 1257 L1675.93 1257 L1679.07 1257 L1682.2 1257 L1685.33 1257 L1688.47 1257 L1691.6 1257 L1694.73 1257 L1697.87 1257 L1701 1257 L1701 1245 L1697.87 1245 L1694.73 1245 L1691.6 1245 L1688.47 1245 L1685.33 1245 L1682.2 1245 L1679.07 1245 L1675.93 1245 L1672.8 1245 L1669.67 1245 L1666.53 1245 L1663.4 1245 L1660.27 1245 L1657.13 1245 L1654 1245Z"/>
<path stroke="none" fill="#ff0000" d="M1728.5 1257 L1736.5 1257 L1736.5 1245 L1728.5 1245Z"/>
<path stroke="none" fill="#ff0000" d="M1759 1257 L1762.07 1257 L1765.13 1257 L1768.2 1257 L1771.27 1257 L1774.33 1257 L1777.4 1257 L1780.47 1257 L1783.53 1257 L1786.6 1257 L1789.67 1257 L1792.73 1257 L1795.8 1257 L1798.87 1257 L1801.93 1257 L1805 1257 L1805 1245 L1801.93 1245 L1798.87 1245 L1795.8 1245 L1792.73 1245 L1789.67 1245 L1786.6 1245 L1783.53 1245 L1780.47 1245 L1777.4 1245 L1774.33 1245 L1771.27 1245 L1768.2 1245 L1765.13 1245 L1762.07 1245 L1759 1245Z"/>
<path stroke="none" fill="#ff0000" d="M1833 1257 L1841 1257 L1841 1245 L1833 1245Z"/>
<path stroke="none" fill="#ff0000" d="M1869 1257 L1872.13 1257 L1875.27 1257 L1878.4 1257 L1881.53 1257 L1884.67 1257 L1887.8 1257 L1890.93 1257 L1894.07 1257 L1897.2 1257 L1900.33 1257 L1903.47 1257 L1906.6 1257 L1909.73 1257 L1912.87 1257 L1916 1257 L1916 1245 L1912.87 1245 L1909.73 1245 L1906.6 1245 L1903.47 1245 L1900.33 1245 L1897.2 1245 L1894.07 1245 L1890.93 1245 L1887.8 1245 L1884.67 1245 L1881.53 1245 L1878.4 1245 L1875.27 1245 L1872.13 1245 L1869 1245Z"/>
<path stroke="none" fill="#ff0000" d="M1944 1257 L1952 1257 L1952 1245 L1944 1245Z"/>
<path stroke="none" fill="#ff0000" d="M1980 1257 L1983.13 1257 L1986.27 1257 L1989.4 1257 L1992.53 1257 L1995.67 1257 L1998.8 1257 L2001.93 1257 L2005.07 1257 L2008.2 1257 L2011.33 1257 L2014.47 1257 L2017.6 1257 L2020.73 1257 L2023.87 1257 L2027 1257 L2027 1245 L2023.87 1245 L2020.73 1245 L2017.6 1245 L2014.47 1245 L2011.33 1245 L2008.2 1245 L2005.07 1245 L2001.93 1245 L1998.8 1245 L1995.67 1245 L1992.53 1245 L1989.4 1245 L1986.27 1245 L1983.13 1245 L1980 1245Z"/>
<path stroke="none" fill="#ff0000" d="M2054.5 1257 L2062.5 1257 L2062.5 1245 L2054.5 1245Z"/>
<path stroke="none" fill="#ff0000" d="M2091 1257 L2094.13 1257 L2097.27 1257 L2100.4 1257 L2103.53 1257 L2106.67 1257 L2109.8 1257 L2112.93 1257 L2116.07 1257 L2119.2 1257 L2122.33 1257 L2125.47 1257 L2128.6 1257 L2131.73 1257 L2134.87 1257 L2138 1257 L2138 1245 L2134.87 1245 L2131.73 1245 L2128.6 1245 L2125.47 1245 L2122.33 1245 L2119.2 1245 L2116.07 1245 L2112.93 1245 L2109.8 1245 L2106.67 1245 L2103.53 1245 L2100.4 1245 L2097.27 1245 L2094.13 1245 L2091 1245Z"/>
<path stroke="none" fill="#ff0000" d="M2165.5 1257 L2173.5 1257 L2173.5 1245 L2165.5 1245Z"/>
<path stroke="none" fill="#ff0000" d="M2202 1257 L2205.08 1257 L2208.17 1257 L2211.25 1257 L2214.33 1257 L2217.42 1257 L2220.5 1257 L2223.58 1257 L2226.67 1257 L2229.75 1257 L2232.83 1257 L2235.92 1257 L2239 1257 L2239 1245 L2235.92 1245 L2232.83 1245 L2229.75 1245 L2226.67 1245 L2223.58 1245 L2220.5 1245 L2217.42 1245 L2214.33 1245 L2211.25 1245 L2208.17 1245 L2205.08 1245 L2202 1245Z"/>
</g>
<g stroke="#008000" stroke-width="12">
<path stroke="none" fill="#008000" d="M374 1257 L381 1257 L381 1245 L374 1245Z"/>
<path stroke="none" fill="#008000" d="M427 1257 L434 1257 L434 1245 L427 1245Z"/>
<path stroke="none" fill="#008000" d="M480 1257 L487 1257 L487 1245 L480 1245Z"/>
<path stroke="none" fill="#008000" d="M533 1257 L540 1257 L540 1245 L533 1245Z"/>
<path stroke="none" fill="#008000" d="M586 1257 L593 1257 L593 1245 L586 1245Z"/>
<path stroke="none" fill="#008000" d="M639 1257 L646 1257 L646 1245 L639 1245Z"/>
<path stroke="none" fill="#008000" d="M692.29 1255.56 L699.29 1255.22 L698.71 1243.24 L691.71 1243.58Z"/>
<path stroke="none" fill="#008000" d="M746.37 1249.04 L753.37 1247.77 L751.23 1235.96 L744.23 1237.23Z"/>
<path stroke="none" fill="#008000" d="M800.45 1233.68 L807.45 1231.27 L803.55 1219.92 L796.55 1222.33Z"/>
<path stroke="none" fill="#008000" d="M854.08 1212.41 L861.08 1208.41 L855.12 1197.99 L848.12 1201.99Z"/>
<path stroke="none" fill="#008000" d="M907.05 1168.45 L913.18 1161.45 L904.15 1153.55 L898.02 1160.55Z"/>
<path stroke="none" fill="#008000" d="M944.51 1114.41 L948.56 1107.41 L937.49 1102.59 L933.44 1109.59Z"/>
<path stroke="none" fill="#008000" d="M971.82 1061.03 L974.97 1054.03 L963.18 1050.97 L960.03 1057.97Z"/>
<path stroke="none" fill="#008000" d="M993.45 1008.05 L996.07 1001.05 L984.05 998.95 L981.43 1005.95Z"/>
<path stroke="none" fill="#008000" d="M1011.88 955.42 L1014.13 948.42 L1002.12 946.58 L999.87 953.58Z"/>
<path stroke="none" fill="#008000" d="M1027.5 903.33 L1029.51 896.33 L1017.5 894.67 L1015.49 901.67Z"/>
<path stroke="none" fill="#008000" d="M1042.05 850.79 L1043.95 843.79 L1031.95 842.21 L1030.05 849.21Z"/>
<path stroke="none" fill="#008000" d="M1056.08 798.27 L1057.93 791.27 L1045.92 789.73 L1044.07 796.73Z"/>
<path stroke="none" fill="#008000" d="M1069.64 746.47 L1071.37 739.47 L1059.36 738.03 L1057.63 745.03Z"/>
<path stroke="none" fill="#008000" d="M1082.15 693.21 L1083.85 686.21 L1071.85 684.79 L1070.15 691.79Z"/>
<path stroke="none" fill="#008000" d="M1095.12 641.23 L1096.88 634.23 L1084.88 632.77 L1083.12 639.77Z"/>
<path stroke="none" fill="#008000" d="M1108.48 588.26 L1110.32 581.26 L1098.32 579.74 L1096.48 586.74Z"/>
<path stroke="none" fill="#008000" d="M1122.49 536.84 L1124.52 529.84 L1112.51 528.16 L1110.48 535.16Z"/>
<path stroke="none" fill="#008000" d="M1138.62 484.43 L1140.9 477.43 L1128.88 475.57 L1126.6 482.57Z"/>
<path stroke="none" fill="#008000" d="M1156.48 432.03 L1159.04 425.03 L1147.02 422.97 L1144.46 429.97Z"/>
<path stroke="none" fill="#008000" d="M1176.91 379.41 L1179.94 372.41 L1168.09 369.59 L1165.06 376.59Z"/>
<path stroke="none" fill="#008000" d="M1201.62 327.3 L1205.56 320.3 L1194.38 315.7 L1190.44 322.7Z"/>
<path stroke="none" fill="#008000" d="M1232.94 277.57 L1239.94 271.47 L1232.06 262.43 L1225.06 268.53Z"/>
<path stroke="none" fill="#008000" d="M1276.99 271.63 L1283.99 278.52 L1292.41 269.97 L1285.41 263.08Z"/>
<path stroke="none" fill="#008000" d="M1306.58 320.94 L1309.53 327.94 L1321.42 325.26 L1318.47 318.26Z"/>
<path stroke="none" fill="#008000" d="M1324.44 372.86 L1326.55 379.86 L1338.56 378.14 L1336.45 371.14Z"/>
<path stroke="none" fill="#008000" d="M1339.05 425.78 L1340.94 432.78 L1352.95 431.22 L1351.06 424.22Z"/>
<path stroke="none" fill="#008000" d="M1353.09 478 L1354.91 485 L1366.91 483.5 L1365.09 476.5Z"/>
<path stroke="none" fill="#008000" d="M1366.35 530.49 L1368.14 537.49 L1380.15 536.01 L1378.36 529.01Z"/>
<path stroke="none" fill="#008000" d="M1379.62 581.73 L1381.38 588.73 L1393.38 587.27 L1391.62 580.27Z"/>
<path stroke="none" fill="#008000" d="M1392.64 634.97 L1394.36 641.97 L1406.36 640.53 L1404.64 633.53Z"/>
<path stroke="none" fill="#008000" d="M1405.59 687.5 L1407.4 694.5 L1419.41 693 L1417.6 686Z"/>
<path stroke="none" fill="#008000" d="M1419.76 740.56 L1421.73 747.56 L1433.74 745.94 L1431.77 738.94Z"/>
<path stroke="none" fill="#008000" d="M1434.93 792.62 L1437.06 799.62 L1449.07 797.88 L1446.94 790.88Z"/>
<path stroke="none" fill="#008000" d="M1451.33 845.2 L1453.65 852.2 L1465.67 850.3 L1463.35 843.3Z"/>
<path stroke="none" fill="#008000" d="M1469.67 897.82 L1472.31 904.82 L1484.33 902.68 L1481.69 895.68Z"/>
<path stroke="none" fill="#008000" d="M1490.82 950.64 L1493.82 957.64 L1505.68 954.86 L1502.68 947.86Z"/>
<path stroke="none" fill="#008000" d="M1514.72 1003.86 L1518.22 1010.86 L1529.78 1007.14 L1526.28 1000.14Z"/>
<path stroke="none" fill="#008000" d="M1543.44 1056.35 L1547.43 1063.35 L1558.56 1058.65 L1554.57 1051.65Z"/>
<path stroke="none" fill="#008000" d="M1574.72 1110.02 L1579.38 1117.02 L1589.78 1110.98 L1585.12 1103.98Z"/>
<path stroke="none" fill="#008000" d="M1613.79 1163.08 L1620.79 1169.97 L1629.21 1161.42 L1622.21 1154.53Z"/>
<path stroke="none" fill="#008000" d="M1667.53 1204.39 L1674.53 1207.55 L1679.47 1196.61 L1672.47 1193.45Z"/>
<path stroke="none" fill="#008000" d="M1722.17 1222.09 L1729.17 1224.2 L1732.63 1212.71 L1725.63 1210.6Z"/>
<path stroke="none" fill="#008000" d="M1756.94 1232.35 L1763.94 1234.24 L1767.06 1222.65 L1760.06 1220.76Z"/>
<path stroke="none" fill="#008000" d="M1811.21 1246.24 L1818.21 1247.16 L1819.79 1235.26 L1812.79 1234.34Z"/>
<path stroke="none" fill="#008000" d="M1864.74 1251.34 L1871.74 1251.65 L1872.26 1239.66 L1865.26 1239.35Z"/>
<path stroke="none" fill="#008000" d="M1917.77 1252.86 L1924.77 1253.13 L1925.23 1241.14 L1918.23 1240.87Z"/>
<path stroke="none" fill="#008000" d="M1970.83 1255.9 L1977.83 1256.1 L1978.17 1244.1 L1971.17 1243.9Z"/>
<path stroke="none" fill="#008000" d="M2024 1257 L2031 1257 L2031 1245 L2024 1245Z"/>
<path stroke="none" fill="#008000" d="M2077 1257 L2084 1257 L2084 1245 L2077 1245Z"/>
<path stroke="none" fill="#008000" d="M2130 1257 L2137 1257 L2137 1245 L2130 1245Z"/>
<path stroke="none" fill="#008000" d="M2183 1257 L2190 1257 L2190 1245 L2183 1245Z"/>
<path stroke="none" fill="#008000" d="M2236 1257 L2243 1257 L2243 1245 L2236 1245Z"/>
</g>
</g>
<g shape-rendering="crispEdges">
<rect x="1440" y="47" width="760" height="263" fill="#fff"/>
<rect x="1460" y="86" width="160" height="11" fill="#0000ff"/>
<rect x="1460" y="173" width="47" height="11" fill="#ff0000"/>
<rect x="1534" y="173" width="8" height="11" fill="#ff0000"/>
<rect x="1571" y="173" width="46" height="11" fill="#ff0000"/>
<rect x="1460" y="259" width="7" height="11" fill="#008000"/>
<rect x="1513" y="259" width="7" height="11" fill="#008000"/>
<rect x="1566" y="259" width="7" height="11" fill="#008000"/>
</g>
<g font-family="'Liberation Sans', Arial, sans-serif" fill="#000" filter="url(#bw)">
<text transform="translate(1638.22 115) scale(0.9701 1)" font-size="72.7">MagP-OH</text>
<text transform="translate(1638.21 202) scale(0.9706 1)" font-size="72.7">MagP-COOH</text>
<text transform="translate(1638.21 289) scale(0.9720 1)" font-size="72.7">MagP-COO-GEM</text>
</g>
</svg>
</body></html>
